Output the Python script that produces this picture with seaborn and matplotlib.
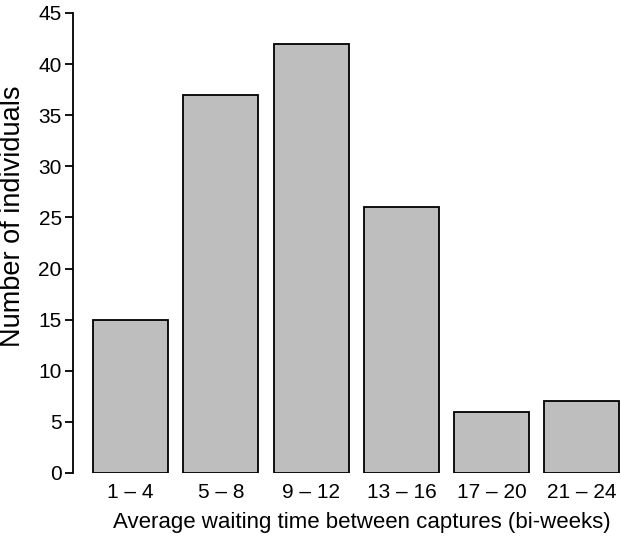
import matplotlib
matplotlib.use("Agg")
import pandas as pd
import seaborn as sns
import matplotlib.pyplot as plt

# data
classi = ["1 – 4", "5 – 8", "9 – 12", "13 – 16", "17 – 20", "21 – 24"]
individui = [15, 37, 42, 26, 6, 7]

df = pd.DataFrame({"Classe": classi, "Individui": individui})

sns.set_style("ticks")
plt.rcParams["font.family"] = ["Liberation Sans", "DejaVu Sans"]

fig = plt.figure(figsize=(6.22, 5.39), dpi=100)
ax = fig.add_axes([0.117, 0.1225, 0.881, 0.8535])
sns.barplot(data=df, x="Classe", y="Individui", color="#bebebe",
            edgecolor="black", linewidth=1.3, width=0.83, saturation=1, ax=ax)

ax.set_xlim(-0.64, 5.43)
ax.set_ylim(0, 45)
ax.set_yticks(range(0, 46, 5))
ax.spines["top"].set_visible(False)
ax.spines["right"].set_visible(False)
ax.spines["bottom"].set_visible(False)
ax.spines["left"].set_linewidth(1.3)
ax.spines["left"].set_color("black")
ax.tick_params(axis="y", labelsize=15, width=1.3, length=6, pad=2,
               color="black", labelcolor="black")
ax.tick_params(axis="x", labelsize=15, length=0, pad=7, labelcolor="black")
ax.set_xlabel("Average waiting time between captures (bi-weeks)",
              fontsize=16, color="black")
ax.set_ylabel("Number of individuals", fontsize=19.5, color="black")
ax.xaxis.set_label_coords(0.527, -0.085)
ax.yaxis.set_label_coords(-0.086, 0.557)

fig.savefig("out.png", dpi=100)
